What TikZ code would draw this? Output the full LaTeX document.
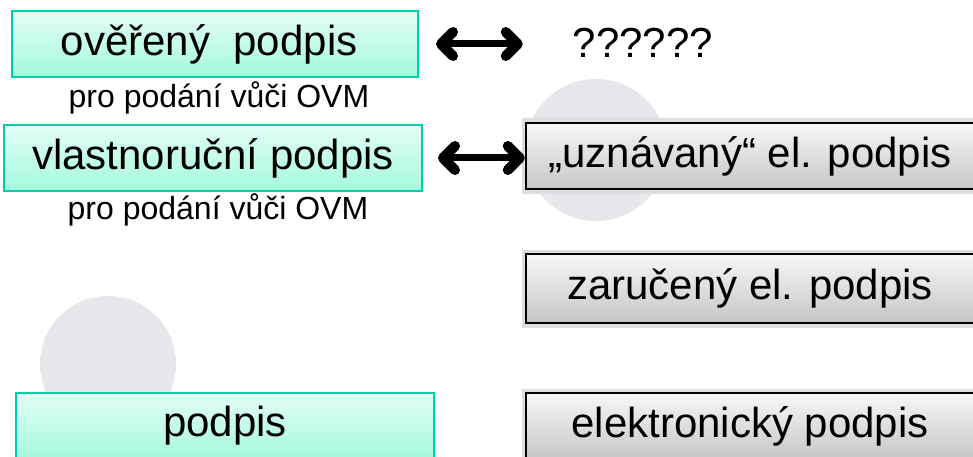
\documentclass[tikz,border=0pt]{standalone}
\usepackage{fontspec}
\setmainfont{Liberation Sans}
\usetikzlibrary{arrows.meta}
\definecolor{mint}{RGB}{0,208,165}
\definecolor{mintlt}{RGB}{228,254,245}
\definecolor{mintdk}{RGB}{163,249,220}
\definecolor{greylt}{RGB}{247,247,247}
\definecolor{greydk}{RGB}{198,198,198}
\definecolor{blob}{RGB}{230,231,234}

\tikzset{
    kind/.style={rectangle, draw=mint, line width=2pt, inner sep=0pt,
        top color=mintlt, bottom color=mintdk, minimum height=66pt,
        font=\fontsize{42}{50}\selectfont},
    elkind/.style={rectangle, draw=black, line width=2.5pt, inner sep=0pt,
        preaction={draw=black!13, line width=9pt},
        top color=greylt, bottom color=greydk, minimum width=448pt,
        minimum height=66pt, font=\fontsize{42}{50}\selectfont},
    note/.style={inner sep=0pt, font=\fontsize{32}{38}\selectfont},
    biarrow/.style={line width=7pt,
        {Straight Barb[length=12pt, width=24pt, line width=10pt, round]}-{Straight Barb[length=12pt, width=24pt, line width=10pt, round]}},
}

\begin{document}
\begin{tikzpicture}[x=1pt, y=-1pt]
    \clip (0,0) rectangle (973,457);
    \fill[blob] (596,150) circle[radius=71pt];
    \fill[blob] (108,364) circle[radius=68pt];

    \node[kind, minimum width=406pt] (ov) at (215, 44)  {ověřený~~podpis~~};
    \node[note]                      (ovn) at (219, 98) {pro podání vůči OVM};
    \node[kind, minimum width=418pt] (vl) at (213, 158) {vlastnoruční podpis};
    \node[note]                      (vln) at (218, 210) {pro podání vůči OVM};
    \node[kind, minimum width=418pt] (pd) at (225, 426) {podpis};

    \node[inner sep=0pt, font=\fontsize{42}{50}\selectfont] (q) at (643, 43) {??????};
    \node[elkind] (uz) at (750, 156)   {„uznávaný“ el. podpis};
    \node[elkind, minimum height=69pt] (za) at (750, 288.5) {zaručený el. podpis};
    \node[elkind] (el) at (750, 426)   {elektronický podpis};

    \draw[biarrow, shorten <=17pt, shorten >=50pt] (ov.east) -- (ov.east -| q.west);
    \draw[biarrow, shorten <=15pt] (vl.east) -- (vl.east -| uz.west);
\end{tikzpicture}
\end{document}
